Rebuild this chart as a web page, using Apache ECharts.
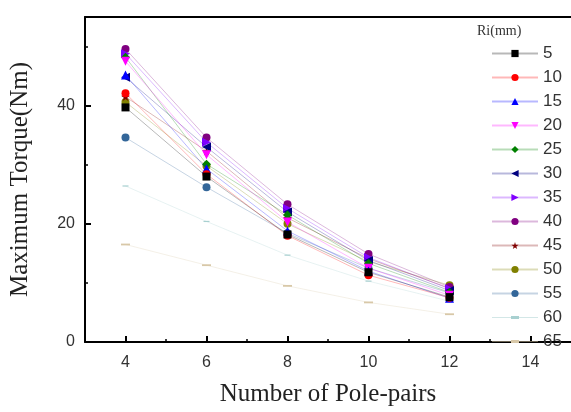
<!DOCTYPE html>
<html>
<head>
  <meta charset="UTF-8">
  <title>Maximum Torque vs Number of Pole-pairs</title>
  <script src="https://cdn.jsdelivr.net/npm/echarts@6/dist/echarts.min.js"></script>
  <style>
    html, body { margin: 0; padding: 0; background: #fff; }
    #chart { width: 571px; height: 412px; }
  </style>
</head>
<body>
  <div id="chart"></div>
  <script>
    // pole pairs on the x axis
    var polePairs = [4, 6, 8, 10, 12];
    // Ri(mm) of each curve
    var riNames = ['5', '10', '15', '20', '25', '30', '35', '40', '45', '50', '55', '60', '65'];
    // maximum torque (Nm) per Ri
    var t5  = [39.7, 28.0, 18.2, 11.8, 7.6];
    var t10 = [42.1, 28.4, 18.0, 11.3, 7.5];
    var t15 = [45.2, 29.3, 18.8, 12.0, 7.4];
    var t20 = [47.5, 31.7, 20.3, 12.5, 7.9];
    var t25 = [48.2, 30.1, 21.5, 13.3, 8.4];
    var t30 = [44.8, 33.0, 22.0, 13.8, 8.7];
    var t35 = [48.8, 33.8, 22.6, 14.3, 9.0];
    var t40 = [49.6, 34.6, 23.3, 14.9, 9.3];
    var t45 = [41.5, 32.3, 21.0, 14.1, 9.1];
    var t50 = [40.6, 29.8, 20.0, 13.6, 9.6];
    var t55 = [34.6, 26.2, 18.4, 12.5, 8.3];
    var t60 = [26.4, 20.4, 14.7, 10.3, 6.9];
    var t65 = [16.5, 13.0, 9.5, 6.7, 4.7];
    var torque = [t5, t10, t15, t20, t25, t30, t35, t40, t45, t50, t55, t60, t65];
    var xTicks = [4, 6, 8, 10, 12, 14];
    var xMinorTicks = [5, 7, 9, 11, 13];
    var yTicks = [0, 20, 40];
    var yMinorTicks = [10, 30, 50];

    var colors = ['#000000', '#ff0000', '#0000ff', '#ff00ff', '#008000', '#000080', '#8000ff',
                  '#800080', '#800000', '#808000', '#336699', '#a8d0d0', '#d8c8a8'];
    var star = 'path://M50,0 L61,35 L98,35 L68,57 L79,91 L50,70 L21,91 L32,57 L2,35 L39,35 Z';
    var dash = 'path://M0,0 L10,0 L10,2 L0,2 Z';
    // legend icon for the dash-marker series: thin line with a short dash in the middle
    var dashLegend = 'path://M0,1.2 L46,1.2 L46,1.8 L0,1.8 Z M19,0 L27,0 L27,3 L19,3 Z';
    var symbols = ['rect', 'circle', 'triangle', 'triangle', 'diamond', 'triangle', 'triangle',
                   'circle', star, 'circle', 'circle', dash, dash];
    var rotations = [0, 0, 0, 180, 0, 90, -90, 0, 0, 0, 0, 0, 0];
    var sizes = [8, 8, 9, 9, 9, 9, 9, 8, 9, 8, 8, 6, 9];

    var series = riNames.map(function (name, i) {
      return {
        name: name,
        type: 'line',
        data: polePairs.map(function (p, j) { return [p, torque[i][j]]; }),
        symbol: symbols[i],
        symbolSize: sizes[i],
        symbolRotate: rotations[i],
        symbolKeepAspect: true,
        itemStyle: { color: colors[i] },
        lineStyle: { color: colors[i], width: 1, opacity: 0.28 },
        emphasis: { disabled: true },
        z: 20 - i
      };
    });

    var legendData = riNames.map(function (name, i) {
      return symbols[i] === dash ? { name: name, icon: dashLegend } : { name: name };
    });

    var chart = echarts.init(document.getElementById('chart'));
    chart.setOption({
      animation: false,
      title: {
        text: 'Ri(mm)', left: 472, top: 19,
        textStyle: { fontFamily: 'Liberation Serif', fontSize: 14, fontWeight: 'normal', color: '#333' }
      },
      legend: {
        orient: 'vertical', left: 486, top: 40,
        itemWidth: 46, itemHeight: 9, itemGap: 7,
        symbolKeepAspect: true,
        textStyle: { fontFamily: 'Liberation Sans', fontSize: 17, color: '#333', lineHeight: 17 },
        data: legendData
      },
      grid: { left: 82, top: 17, width: 492, height: 332 },
      xAxis: [{
        type: 'value', min: 3, max: 15, position: 'bottom',
        name: 'Number of Pole-pairs', nameLocation: 'middle', nameGap: 40,
        nameTextStyle: { fontFamily: 'Liberation Serif', fontSize: 25, color: '#222' },
        axisLine: { lineStyle: { color: '#000', width: 2 } },
        axisTick: { inside: true, length: 6, lineStyle: { color: '#000', width: 2 }, customValues: xTicks },
        axisLabel: { customValues: xTicks, fontFamily: 'Liberation Sans', fontSize: 16, color: '#333', margin: 13 },
        splitLine: { show: false }
      }, {
        type: 'value', min: 3, max: 15, position: 'bottom',
        axisLine: { show: false },
        axisTick: { inside: true, length: 3, lineStyle: { color: '#000', width: 1.5 }, customValues: xMinorTicks },
        axisLabel: { show: false },
        splitLine: { show: false }
      }, {
        type: 'value', min: 3, max: 15, position: 'top',
        axisLine: { lineStyle: { color: '#000', width: 2 } },
        axisTick: { show: false }, axisLabel: { show: false }, splitLine: { show: false }
      }],
      yAxis: [{
        type: 'value', min: 0, max: 55,
        name: 'Maximum Torque(Nm)', nameLocation: 'middle', nameGap: 52,
        nameTextStyle: { fontFamily: 'Liberation Serif', fontSize: 25, color: '#222' },
        axisLine: { show: true, lineStyle: { color: '#000', width: 2 } },
        axisTick: { inside: true, length: 6, lineStyle: { color: '#000', width: 2 }, customValues: yTicks },
        axisLabel: { customValues: yTicks, fontFamily: 'Liberation Sans', fontSize: 16, color: '#333', margin: 10 },
        splitLine: { show: false }
      }, {
        type: 'value', min: 0, max: 55, position: 'left',
        axisLine: { show: false },
        axisTick: { inside: true, length: 3, lineStyle: { color: '#000', width: 1.5 }, customValues: yMinorTicks },
        axisLabel: { show: false },
        splitLine: { show: false }
      }],
      series: series
    });
  </script>
</body>
</html>
